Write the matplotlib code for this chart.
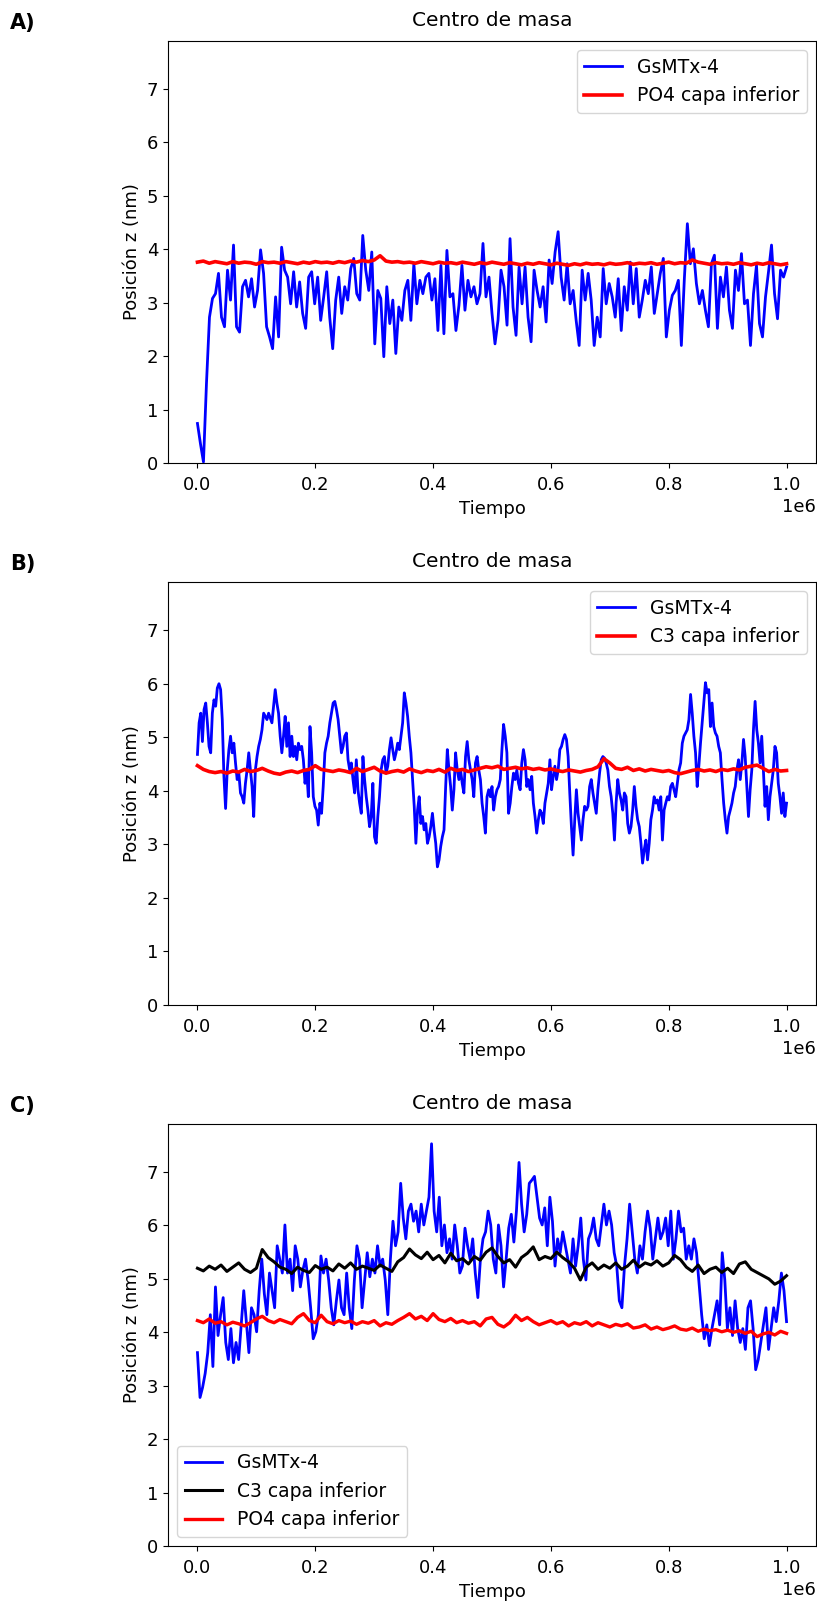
import numpy as np
import matplotlib
matplotlib.use("Agg")
import matplotlib.pyplot as plt

# ---- datos (posicion z en nm) ----
# Panel A
gsmtx_a = [
    0.74, 0.36, 0.02, 1.49, 2.73, 3.08, 3.17, 3.55, 2.73,
    2.55, 3.61, 3.05, 4.08, 2.55, 2.45, 3.30, 3.42, 3.11, 3.45,
    2.92, 3.23, 3.99, 3.55, 2.55, 2.36, 2.14, 3.11, 2.36, 4.04,
    3.61, 3.48, 2.98, 3.58, 2.92, 3.39, 2.80, 2.52, 3.48, 3.58,
    2.98, 3.48, 2.67, 3.11, 3.58, 2.73, 2.14, 3.05, 3.48, 2.80,
    3.30, 3.05, 3.64, 3.83, 3.17, 3.05, 4.26, 3.61, 3.23, 3.95,
    2.23, 3.23, 3.08, 1.99, 3.30, 2.61, 3.05, 2.05, 2.92, 2.67,
    3.23, 3.42, 2.67, 3.73, 2.98, 3.42, 3.17, 3.48, 3.55, 3.05,
    3.45, 2.48, 3.70, 2.42, 3.98, 3.11, 3.17, 2.48, 2.95, 3.70,
    2.86, 3.42, 3.11, 3.30, 2.98, 3.17, 4.11, 3.11, 3.48, 2.80,
    2.23, 2.67,
    3.61, 3.30, 2.58, 4.20, 2.92, 2.39, 3.67, 2.98, 3.67, 2.73,
    2.27, 3.61, 3.23, 2.92, 3.30, 2.64, 3.80, 3.36, 3.95, 4.33,
    3.48, 3.05, 3.73, 2.98, 3.23, 2.67, 2.20, 3.61, 3.05, 3.55,
    3.05, 2.20, 2.73, 2.36, 3.64, 2.98, 3.36, 3.11, 2.73, 3.45,
    2.48, 3.30, 2.86, 3.76, 2.98, 3.64, 2.73, 3.05, 3.42, 3.17,
    3.67, 2.80, 3.17, 3.55, 3.83, 2.36, 2.86, 3.14, 3.23, 3.42,
    2.20, 3.45, 4.48, 3.73, 4.01, 3.36, 2.98, 3.23, 2.86, 2.55,
    3.73, 3.89, 2.52, 3.48, 3.11, 3.67, 2.86, 2.52, 3.61, 3.23,
    3.92, 2.98, 3.05, 2.20, 3.17, 3.70, 2.61, 2.36, 3.11, 3.58,
    4.08, 3.17, 2.70, 3.61, 3.48, 3.67,
]
po4_a = [
    3.76, 3.78, 3.74, 3.77, 3.75, 3.73, 3.77, 3.74, 3.76, 3.75,
    3.72, 3.77, 3.75, 3.76, 3.74, 3.77, 3.75, 3.73, 3.76, 3.74,
    3.77, 3.75, 3.76, 3.74, 3.77, 3.75, 3.78, 3.76, 3.79, 3.77,
    3.80, 3.88, 3.78, 3.76, 3.77, 3.75, 3.76, 3.74, 3.77, 3.75,
    3.73, 3.76, 3.74, 3.75, 3.73, 3.76, 3.74, 3.72, 3.75, 3.73,
    3.76, 3.74, 3.72, 3.75, 3.73, 3.71, 3.74, 3.72, 3.75, 3.73,
    3.71, 3.74, 3.72, 3.70, 3.73, 3.71, 3.74, 3.72, 3.73, 3.71,
    3.74, 3.72, 3.73, 3.75, 3.72, 3.74, 3.73, 3.75, 3.72, 3.74,
    3.76, 3.73, 3.75, 3.74, 3.80, 3.76, 3.74, 3.72, 3.75, 3.73,
    3.74, 3.72, 3.75, 3.73, 3.71, 3.74, 3.72, 3.75, 3.73, 3.71, 3.73,
]

# Panel B
gsmtx_b = [
    4.68, 5.27, 5.45, 4.92, 5.52, 5.64, 5.27, 4.83, 4.71, 5.45,
    5.70, 5.58, 5.92, 6.00, 5.89, 5.33, 4.27, 3.67, 4.39, 4.77,
    5.02, 4.71, 4.89, 4.52, 4.21, 4.33, 3.96, 3.89, 3.77, 4.14,
    4.39, 4.71, 4.39, 4.08, 3.52, 4.39, 4.64, 4.83, 4.96, 5.14,
    5.45, 5.39, 5.33, 5.45, 5.36, 5.27, 5.58, 5.89, 5.64, 5.45,
    5.02, 4.71, 5.02, 5.39, 4.83, 5.27, 4.64, 5.02, 4.64, 4.83,
    4.58, 4.89, 4.77, 4.83, 4.58, 4.14, 4.39, 3.89, 5.20, 4.71,
    3.89, 3.71, 3.64, 3.36, 3.77, 3.58, 4.08, 4.71, 4.89, 5.02,
    5.27, 5.45, 5.64, 5.67, 5.52, 5.33, 5.02, 4.71, 4.83, 5.02,
    5.08, 4.58, 4.39, 4.52, 4.21, 3.96, 4.58, 4.02, 3.77, 3.58,
    4.64, 4.21, 3.89, 3.64, 3.33, 3.52, 4.14, 3.14, 3.02, 3.52,
    3.89, 4.39, 4.58, 4.64, 4.33, 4.46, 4.77, 4.99, 4.77, 4.58,
    4.71, 4.89, 4.77, 5.02, 5.27, 5.83, 5.64, 5.39, 5.02, 4.71,
    4.21, 3.71, 3.02, 3.64, 3.89, 3.39, 3.52, 3.27, 3.39, 3.02,
    3.14, 3.33, 3.58, 3.27, 3.02, 2.58, 2.71, 2.96, 3.14, 3.27,
    4.08, 4.77, 4.39, 4.08, 3.64, 4.02, 4.71, 4.39, 4.21, 4.39,
    4.14, 3.96, 4.64, 4.92, 4.58, 4.39, 4.21, 3.89, 4.52, 4.64,
    4.39, 4.21, 3.77, 3.52, 3.21, 3.89, 4.02, 3.89, 4.08, 3.64,
    3.89, 4.02, 4.08,
    4.21, 4.77, 5.24, 5.02, 4.71, 3.58, 3.77, 4.08, 4.33, 4.21,
    4.39, 4.14, 4.02, 4.52, 4.77, 4.58, 4.08, 4.21, 4.02, 4.27,
    3.77, 3.52, 3.21, 3.46, 3.64, 3.58, 3.39, 3.77, 3.96, 4.14,
    4.58, 4.02, 4.27, 4.46, 4.21, 4.39, 4.77, 4.83, 4.96, 5.05,
    4.96, 4.64, 3.96, 3.33, 2.80, 3.46, 4.02, 3.58, 3.33, 3.08,
    3.46, 3.71, 3.64, 3.71, 4.08, 4.21, 3.96, 3.77, 3.58, 4.02,
    4.33, 4.58, 4.64, 4.61, 4.52, 4.39, 4.08, 3.89, 3.58, 3.08,
    3.77, 4.21, 3.96, 3.83, 3.64, 3.96, 3.89, 3.39, 3.21, 3.33,
    3.64, 4.08, 3.71, 3.46, 3.33, 3.02, 2.65, 2.90, 3.08, 2.71,
    3.02, 3.46, 3.64, 3.89, 3.77, 3.83, 3.64, 3.89, 3.08, 3.64,
    3.77, 3.89, 3.83, 4.08, 4.14, 4.02, 3.89, 4.14, 4.39, 4.52,
    4.89, 5.02, 5.08, 5.14, 5.33, 5.80, 5.45, 5.02, 4.71, 4.08,
    4.46, 4.89, 5.27, 5.64, 6.02, 5.83, 5.89, 5.20, 5.64, 5.20,
    5.08, 5.02, 4.83, 4.71, 4.21, 3.77, 3.46, 3.21, 3.52, 3.64,
    3.77, 3.96, 4.08, 4.39, 4.58, 4.21, 4.52, 4.96, 4.64, 4.08,
    3.52, 4.02, 4.39, 5.14, 5.67, 5.14, 4.89, 4.52, 5.02, 4.39,
    3.71, 4.08, 3.46, 3.89, 4.14, 4.39, 4.83, 4.71, 4.14, 3.89,
    3.58, 3.96, 3.52, 3.77,
]
c3_b = [
    4.47, 4.40, 4.36, 4.34, 4.36, 4.33, 4.37, 4.35, 4.40, 4.36,
    4.38, 4.42, 4.37, 4.33, 4.31, 4.35, 4.37, 4.34, 4.38, 4.40,
    4.47, 4.40, 4.38, 4.36, 4.39, 4.37, 4.34, 4.42, 4.36, 4.40,
    4.44, 4.37, 4.33, 4.36, 4.38, 4.35, 4.41, 4.37, 4.34, 4.38,
    4.36, 4.40, 4.35, 4.42, 4.38, 4.40, 4.36, 4.39, 4.42, 4.45,
    4.43, 4.46, 4.40, 4.42, 4.44, 4.41, 4.43, 4.40, 4.42, 4.39,
    4.41, 4.38, 4.36, 4.39, 4.37, 4.35, 4.38, 4.40, 4.45, 4.60,
    4.52, 4.42, 4.40, 4.44, 4.38, 4.41, 4.37, 4.40, 4.38, 4.36,
    4.38, 4.34, 4.32, 4.35, 4.38, 4.40, 4.37, 4.39, 4.36, 4.40,
    4.38, 4.41, 4.39, 4.44, 4.46, 4.48, 4.42, 4.36, 4.40, 4.37, 4.38,
]

# Panel C
gsmtx_c = [
    3.62, 2.78, 2.97, 3.23, 3.62, 4.33, 3.36, 4.85, 3.94, 4.33,
    4.65, 3.81, 3.49, 4.07, 3.43, 3.81, 3.49, 4.14, 4.78, 4.20,
    3.62, 4.46, 4.33, 4.01, 4.78, 5.37, 4.72, 4.33, 5.11, 4.78,
    4.46, 5.62, 5.37, 5.11, 6.01, 5.11, 5.37, 4.78, 5.62, 5.37,
    4.85, 5.17, 5.37, 4.98, 4.46, 3.88, 4.01, 4.33, 5.43, 5.11,
    5.37, 4.98, 4.46, 4.14, 4.59, 4.98, 4.46, 4.33, 5.11, 4.46,
    4.07, 4.98, 5.62, 5.37, 4.46, 4.98, 5.49, 5.04, 5.37, 5.11,
    5.62, 5.24, 5.37, 4.98, 4.33, 5.37, 6.08, 5.62, 5.88, 6.79,
    6.14, 5.75, 6.27, 6.40, 6.08, 6.27, 5.88, 6.40, 6.01, 6.27,
    6.53, 7.53, 6.27, 5.88, 6.53, 5.62, 6.01, 5.49, 5.75, 5.37,
    6.01, 5.62, 5.11, 5.24, 5.95, 5.62, 5.37, 5.75, 5.11, 4.65,
    5.37, 5.75, 5.88, 6.27, 6.01, 5.37, 5.11, 6.01, 5.62, 4.85,
    5.37, 5.95, 6.21, 5.69, 6.27, 7.18, 6.40, 5.88, 6.21, 6.79,
    6.85, 6.92, 6.53, 6.14, 6.01, 6.33, 5.62, 6.53, 6.08, 5.24,
    5.75, 5.49, 5.88, 5.62, 5.37, 5.11, 5.75, 5.24, 5.62, 6.14,
    5.37, 4.98, 5.75, 5.88, 6.14, 5.75, 5.62, 6.01, 6.40, 6.01,
    6.27, 6.01, 5.49, 5.24, 4.59, 4.46, 5.24, 5.75, 6.40, 5.88,
    5.37, 5.11, 5.62, 5.37, 5.88, 6.27, 5.95, 5.37, 5.75, 6.14,
    5.75, 5.88, 6.14, 5.62, 6.27, 5.37, 5.75, 6.27, 5.88, 5.95,
    5.37, 5.62, 5.37, 5.75, 5.49, 4.91, 4.33, 3.88, 4.14, 3.75,
    4.07, 4.33, 4.59, 4.14, 5.49, 4.98, 4.07, 4.46, 3.94, 4.59,
    4.07, 3.81, 4.07, 3.68, 4.46, 4.59, 4.07, 3.30, 3.49, 3.81,
    4.14, 4.46, 3.68, 4.07, 4.46, 4.20, 4.59, 5.11, 4.78, 4.20,
]
c3_c = [
    5.20, 5.15, 5.24, 5.18, 5.26, 5.14, 5.22, 5.30, 5.18, 5.12,
    5.20, 5.55, 5.40, 5.32, 5.22, 5.18, 5.10, 5.22, 5.16, 5.12,
    5.25, 5.18, 5.22, 5.15, 5.28, 5.20, 5.30, 5.18, 5.24, 5.20,
    5.16, 5.26, 5.20, 5.14, 5.32, 5.40, 5.56, 5.45, 5.38, 5.50,
    5.36, 5.44, 5.30, 5.48, 5.34, 5.38, 5.28, 5.42, 5.35, 5.50,
    5.58, 5.42, 5.30, 5.36, 5.22, 5.40, 5.48, 5.60, 5.36, 5.42,
    5.38, 5.50, 5.40, 5.32, 5.20, 4.98, 5.22, 5.30, 5.18, 5.26,
    5.20, 5.30, 5.18, 5.24, 5.35, 5.22, 5.30, 5.26, 5.34, 5.24,
    5.30, 5.44, 5.36, 5.22, 5.14, 5.26, 5.10, 5.18, 5.22, 5.12,
    5.20, 5.10, 5.28, 5.32, 5.18, 5.12, 5.06, 5.00, 4.90, 4.96, 5.06,
]
po4_c = [
    4.22, 4.18, 4.25, 4.17, 4.20, 4.14, 4.19, 4.16, 4.12, 4.18,
    4.25, 4.30, 4.22, 4.18, 4.24, 4.20, 4.16, 4.28, 4.35, 4.22,
    4.18, 4.32, 4.20, 4.16, 4.22, 4.18, 4.21, 4.15, 4.20, 4.17,
    4.22, 4.12, 4.18, 4.15, 4.22, 4.28, 4.35, 4.25, 4.30, 4.22,
    4.35, 4.24, 4.20, 4.26, 4.18, 4.22, 4.17, 4.20, 4.12, 4.25,
    4.28, 4.15, 4.10, 4.18, 4.32, 4.22, 4.28, 4.20, 4.14, 4.18,
    4.22, 4.16, 4.20, 4.12, 4.18, 4.15, 4.20, 4.12, 4.18, 4.14,
    4.10, 4.15, 4.12, 4.16, 4.08, 4.10, 4.14, 4.06, 4.10, 4.05,
    4.08, 4.12, 4.06, 4.04, 4.08, 4.02, 4.06, 4.03, 4.05, 4.01,
    4.04, 4.00, 4.03, 3.98, 4.02, 3.92, 3.97, 4.00, 3.95, 4.02, 3.98,
]

T_FINAL = 1e6


def tiempo(serie):
    return np.linspace(0, T_FINAL, len(serie))


plt.rcParams['font.size'] = 13
plt.rcParams['legend.fontsize'] = 13.5
plt.rcParams['xtick.major.pad'] = 6

fig = plt.figure(figsize=(8.17, 16.07), dpi=100)
W, H = 817.0, 1607.0

# (letra, arriba, abajo) en pixeles
paneles = [
    ("A)", 41, 463),
    ("B)", 582, 1005),
    ("C)", 1124, 1546),
]
axs = []
for letra, top, bot in paneles:
    ax = fig.add_axes([168 / W, 1 - bot / H, 648 / W, (bot - top) / H])
    axs.append(ax)
    fig.text(10 / W, 1 - (top - 18) / H, letra, fontsize=15, fontweight='bold',
             va='center', ha='left')

lw = 2.0
ax = axs[0]
ax.plot(tiempo(gsmtx_a), gsmtx_a, color='blue', lw=lw, label='GsMTx-4')
ax.plot(tiempo(po4_a), po4_a, color='red', lw=2.6, label='PO4 capa inferior')
ax.legend(loc='upper right')

ax = axs[1]
ax.plot(tiempo(gsmtx_b), gsmtx_b, color='blue', lw=lw, label='GsMTx-4')
ax.plot(tiempo(c3_b), c3_b, color='red', lw=2.6, label='C3 capa inferior')
ax.legend(loc='upper right')

ax = axs[2]
ax.plot(tiempo(gsmtx_c), gsmtx_c, color='blue', lw=lw, label='GsMTx-4')
ax.plot(tiempo(c3_c), c3_c, color='black', lw=2.2, label='C3 capa inferior')
ax.plot(tiempo(po4_c), po4_c, color='red', lw=2.4, label='PO4 capa inferior')
ax.legend(loc='lower left')

for ax in axs:
    ax.set_ylim(0, 7.9)
    ax.set_title('Centro de masa', fontsize=14.5, pad=11)
    ax.set_xlabel('Tiempo', labelpad=4)
    ax.set_ylabel('Posición z (nm)')

fig.savefig('out.png', dpi=100)
